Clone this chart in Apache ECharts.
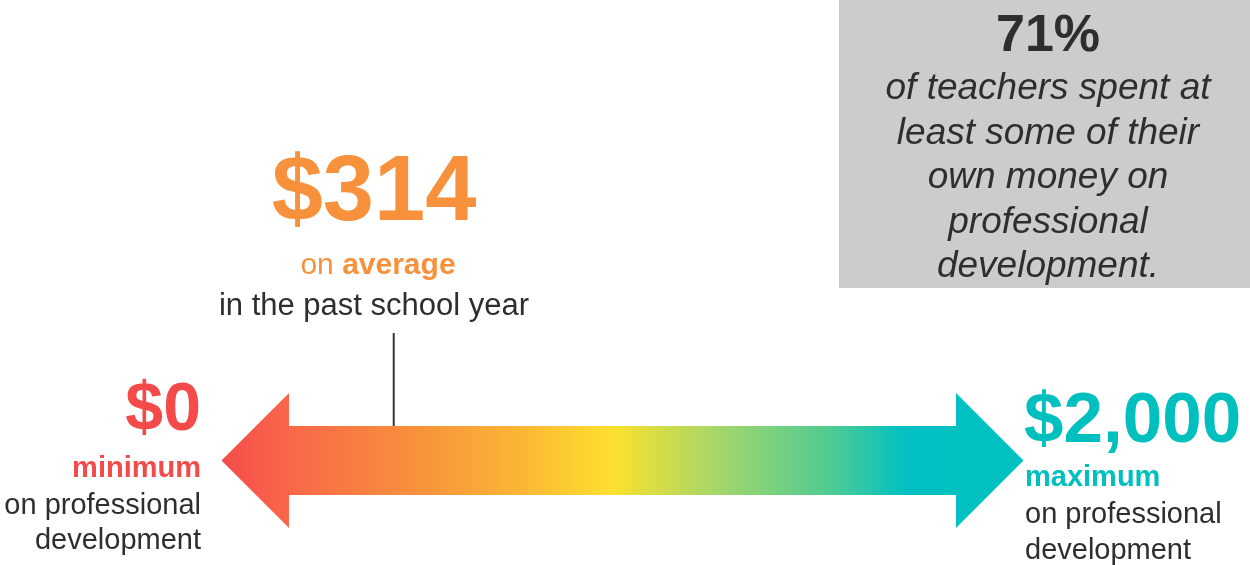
<!DOCTYPE html>
<html><head><meta charset="utf-8">
<script src="https://cdn.jsdelivr.net/npm/echarts@6/dist/echarts.min.js"></script>
<style>html,body{margin:0;padding:0;background:#fff}#c{width:1250px;height:565px}</style>
</head><body><div id="c"></div>
<script>
// ---- data ----
const rangeValues = [0, 2000];
const rangeAmounts = ['$0', '$2,000'];
const rangeKinds = ['minimum', 'maximum'];
const rangeNotes = ['on professional', 'development'];
const averageValue = 314;
const averageAmount = '$314';
const averageWords = ['on', 'average'];
const averageNote = 'in the past school year';
const shareAmount = '71%';
const shareLines = ['of teachers spent at', 'least some of their', 'own money on', 'professional', 'development.'];

// ---- styles ----
const FONT = 'Liberation Sans';
const RED = '#F44A4A', ORANGE = '#F7913C', TEAL = '#00BFBF', DARK = '#2E2E2E';
const ARROW_Y = 460.5, SHAFT_H = 34.5, HEAD_H = 67.5, HEAD_L = 67.5;
const gradStops = [
  {offset: 0, color: '#F44B4B'},
  {offset: 0.08, color: '#F9664A'},
  {offset: 0.24, color: '#F8903C'},
  {offset: 0.37, color: '#FBB535'},
  {offset: 0.49, color: '#FBE12E'},
  {offset: 0.62, color: '#A3D66A'},
  {offset: 0.76, color: '#4ECB93'},
  {offset: 0.85, color: '#03C1C2'},
  {offset: 1, color: '#00C0C0'}
];

const chart = echarts.init(document.getElementById('c'), null, {renderer: 'canvas'});

function txt(text, x, y, size, color, opts) {
  opts = opts || {};
  return {
    type: 'text', x: x, y: y, z: 10,
    style: {
      text: text, fill: color,
      fontFamily: FONT, fontSize: size,
      fontWeight: opts.bold ? 'bold' : 'normal',
      fontStyle: opts.italic ? 'italic' : 'normal',
      textAlign: opts.align || 'center', textVerticalAlign: 'middle'
    }
  };
}

const option = {
  animation: false,
  grid: {left: 289, right: 294, top: 0, bottom: 0},
  xAxis: {type: 'value', min: 0, max: 2000, show: false},
  yAxis: {type: 'value', min: 0, max: 1, show: false},
  series: [
    {
      type: 'custom', z: 2,
      encode: {x: [0, 1]},
      data: [rangeValues],
      renderItem: function (params, api) {
        const x0 = api.coord([api.value(0), 0])[0];
        const x1 = api.coord([api.value(1), 0])[0];
        const cy = ARROW_Y;
        const pts = [
          [x0 - HEAD_L, cy], [x0, cy - HEAD_H], [x0, cy - SHAFT_H], [x1, cy - SHAFT_H],
          [x1, cy - HEAD_H], [x1 + HEAD_L, cy], [x1, cy + HEAD_H], [x1, cy + SHAFT_H],
          [x0, cy + SHAFT_H], [x0, cy + HEAD_H]
        ];
        return {
          type: 'polygon',
          shape: {points: pts},
          style: {fill: new echarts.graphic.LinearGradient(x0 - HEAD_L, 0, x1 + HEAD_L, 0, gradStops, true)}
        };
      }
    },
    {
      type: 'custom', z: 1,
      encode: {x: 0},
      data: [[averageValue]],
      renderItem: function (params, api) {
        const x = api.coord([api.value(0), 0])[0];
        return {
          type: 'line',
          shape: {x1: x, y1: 333, x2: x, y2: ARROW_Y - SHAFT_H},
          style: {stroke: '#333333', lineWidth: 2}
        };
      }
    }
  ],
  graphic: [
    {type: 'rect', shape: {x: 839, y: 0, width: 411, height: 288}, style: {fill: '#CCCCCC'}, z: 0},
    txt(shareAmount, 1048, 37, 52, DARK, {bold: true}),
    ...shareLines.map((s, i) => txt(s, 1048, 89 + i * 44.5, 37, DARK, {italic: true})),

    txt(averageAmount, 374, 195, 92, ORANGE, {bold: true}),
    {
      type: 'text', x: 378, y: 266, z: 10,
      style: {
        text: '{r|' + averageWords[0] + ' }{b|' + averageWords[1] + '}',
        textAlign: 'center', textVerticalAlign: 'middle',
        rich: {
          r: {fontFamily: FONT, fontSize: 30, fill: ORANGE},
          b: {fontFamily: FONT, fontSize: 30, fontWeight: 'bold', fill: ORANGE}
        }
      }
    },
    txt(averageNote, 374, 306, 31, DARK),

    txt(rangeAmounts[0], 201, 411, 68, RED, {bold: true, align: 'right'}),
    txt(rangeKinds[0], 201, 469, 29, RED, {bold: true, align: 'right'}),
    txt(rangeNotes[0], 201, 506, 29, DARK, {align: 'right'}),
    txt(rangeNotes[1], 201, 541, 29, DARK, {align: 'right'}),

    txt(rangeAmounts[1], 1024, 422, 71, TEAL, {bold: true, align: 'left'}),
    txt(rangeKinds[1], 1025, 478, 29, TEAL, {bold: true, align: 'left'}),
    txt(rangeNotes[0], 1025, 515, 29, DARK, {align: 'left'}),
    txt(rangeNotes[1], 1025, 551, 29, DARK, {align: 'left'})
  ]
};
chart.setOption(option);
</script>
</body></html>
